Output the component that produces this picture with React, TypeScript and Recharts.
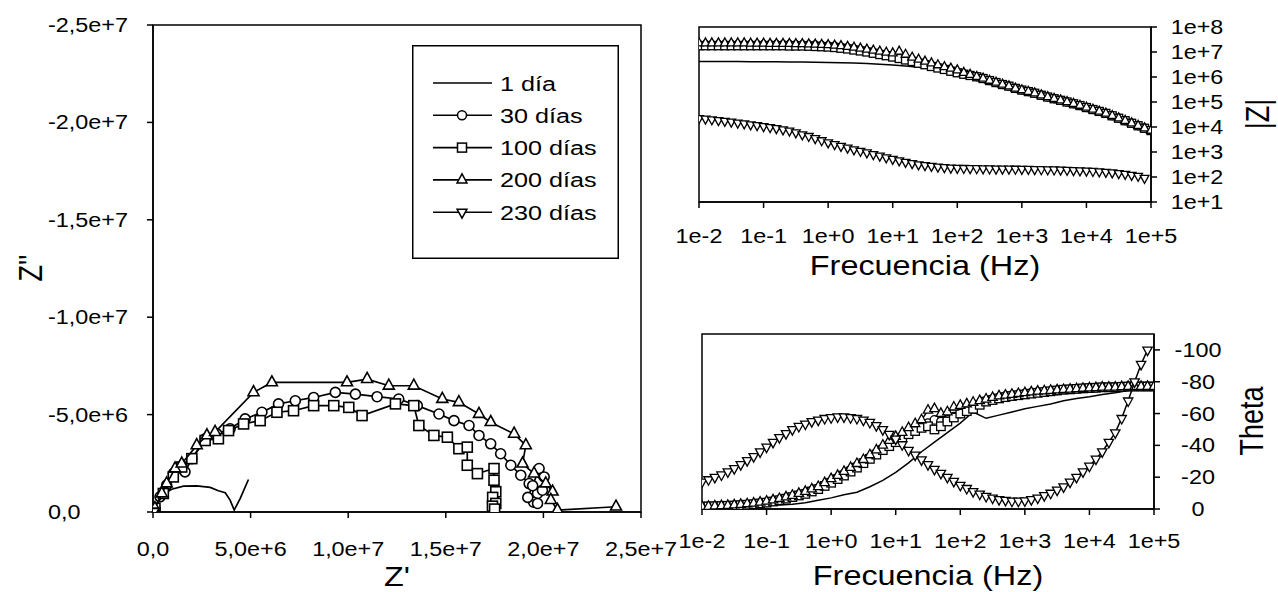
import React from 'react';
import { ScatterChart, Scatter, XAxis, YAxis, ReferenceArea, Legend } from 'recharts';

const FONT = '"Liberation Sans", Arial, Helvetica, sans-serif';
const SX = 1.2;

// ---------- Series names ----------
const SERIES_NAMES = ['1 día', '30 días', '100 días', '200 días', '230 días'];
const SERIES_MARKERS = ['none', 'circle', 'square', 'triUp', 'triDown'];

// ---------- Nyquist (Z', Z'') ----------
const NYQ_1DIA: number[][] = [
  [0, 0], [0.27e6, -0.53e6], [0.53e6, -0.92e6], [0.96e6, -1.17e6], [1.56e6, -1.33e6], [2.24e6, -1.34e6],
  [2.93e6, -1.26e6], [3.35e6, -1.09e6], [3.7e6, -0.99e6], [3.95e6, -0.61e6], [4.16e6, -0.1e6],
  [4.47e6, -0.7e6], [4.89e6, -1.67e6],
];
const NYQ_30: number[][] = [
  [0.1e6, -0.19e6], [0.36e6, -0.78e6], [0.7e6, -1.38e6], [1.04e6, -1.97e6], [1.64e6, -2.06e6], [1.99e6, -2.74e6],
  [2.67e6, -3.76e6], [3.27e6, -4.01e6], [3.95e6, -4.27e6], [4.72e6, -4.78e6], [5.58e6, -5.12e6], [6.43e6, -5.55e6],
  [7.29e6, -5.71e6], [8.23e6, -5.88e6], [9.34e6, -6.14e6], [10.37e6, -6.05e6], [11.48e6, -5.92e6], [12.59e6, -5.8e6],
  [13.54e6, -5.46e6], [14.65e6, -5.03e6], [15.42e6, -4.69e6], [16.19e6, -4.44e6], [16.7e6, -3.93e6], [17.3e6, -3.5e6],
  [17.81e6, -2.99e6], [18.33e6, -2.4e6], [18.84e6, -1.89e6], [19.27e6, -1.46e6], [19.7e6, -0.95e6], [19.5e6, -0.5e6],
  [19.2e6, -0.75e6], [19.45e6, -1.35e6], [19.78e6, -2.23e6], [20.04e6, -1.8e6], [19.95e6, -1.12e6], [19.7e6, -0.44e6],
];
const NYQ_100: number[][] = [
  [0.1e6, -0.19e6], [0.53e6, -0.95e6], [1.04e6, -1.8e6], [1.47e6, -2.31e6], [1.99e6, -2.74e6], [2.67e6, -3.67e6],
  [3.35e6, -3.76e6], [3.87e6, -4.18e6], [4.64e6, -4.52e6], [5.49e6, -4.69e6], [6.35e6, -5.12e6], [7.2e6, -5.2e6],
  [8.23e6, -5.46e6], [9.26e6, -5.46e6], [10.03e6, -5.37e6], [10.71e6, -4.95e6], [12.42e6, -5.55e6], [13.36e6, -5.46e6],
  [13.62e6, -4.44e6], [14.39e6, -3.93e6], [15.08e6, -3.84e6], [15.67e6, -3.25e6], [16.1e6, -3.33e6], [16.1e6, -2.4e6],
  [16.62e6, -1.97e6], [17.47e6, -2.23e6], [17.47e6, -1.63e6], [17.56e6, -1.04e6], [17.4e6, -0.75e6], [17.56e6, -0.44e6],
  [17.39e6, -0.3e6], [17.5e6, -0.15e6],
];
const NYQ_200: number[][] = [
  [0.1e6, -0.19e6], [0.45e6, -0.95e6], [0.7e6, -1.46e6], [1.13e6, -2.23e6], [1.47e6, -2.48e6], [2.24e6, -3.42e6],
  [2.76e6, -3.93e6], [3.18e6, -4.1e6], [5.15e6, -6.14e6], [6.09e6, -6.65e6], [9.94e6, -6.65e6], [10.97e6, -6.82e6],
  [12.08e6, -6.48e6], [13.36e6, -6.48e6], [14.82e6, -5.8e6], [15.67e6, -5.63e6], [16.7e6, -5.03e6], [17.3e6, -4.61e6],
  [18.5e6, -4.01e6], [19.1e6, -3.42e6], [18.93e6, -2.48e6], [19.52e6, -1.97e6], [20.12e6, -1.46e6], [20.47e6, -1.04e6],
  [20.38e6, -0.61e6], [20.72e6, -0.1e6], [23.72e6, -0.27e6],
];
const NYQ_230: number[][] = [[5e4, -2e4], [3e4, -1e4], [2e4, -5e3]];

const NYQ_X_TICKS = [0, 5e6, 1e7, 1.5e7, 2e7, 2.5e7];
const NYQ_X_LABELS = ['0,0', '5,0e+6', '1,0e+7', '1,5e+7', '2,0e+7', '2,5e+7'];
const NYQ_Y_TICKS = [-2.5e7, -2e7, -1.5e7, -1e7, -5e6, 0];
const NYQ_Y_LABELS = ['-2,5e+7', '-2,0e+7', '-1,5e+7', '-1,0e+7', '-5,0e+6', '0,0'];

// ---------- Bode: frequencies ----------
// 10 points per decade (markers)
const FREQ = [
  0.01, 0.0126, 0.0158, 0.02, 0.0251, 0.0316, 0.0398, 0.0501, 0.0631, 0.0794,
  0.1, 0.126, 0.158, 0.2, 0.251, 0.316, 0.398, 0.501, 0.631, 0.794,
  1, 1.26, 1.58, 2, 2.51, 3.16, 3.98, 5.01, 6.31, 7.94,
  10, 12.6, 15.8, 20, 25.1, 31.6, 39.8, 50.1, 63.1, 79.4,
  100, 126, 158, 200, 251, 316, 398, 501, 631, 794,
  1000, 1260, 1580, 2000, 2510, 3160, 3980, 5010, 6310, 7940,
  10000, 12600, 15800, 20000, 25100, 31600, 39800, 50100, 63100, 79400,
  100000,
];
// 1 día is drawn as a plain line
const FREQ_1DIA = [
  0.01, 0.0158, 0.0251, 0.0398, 0.0631, 0.1, 0.158, 0.251, 0.398, 0.631,
  1, 1.58, 2.51, 3.98, 6.31, 10, 15.8, 25.1, 39.8, 63.1,
  100, 158, 251, 398, 631, 1000, 1580, 2510, 3980, 6310,
  10000, 15800, 25100, 39800, 63100, 100000,
];

// ---------- |Z| ----------
const Z_1DIA = [
  4.2e6, 4.2e6, 4.2e6, 4.2e6, 4.1e6, 4.1e6, 4.1e6, 4.0e6, 4.0e6, 3.9e6,
  3.8e6, 3.7e6, 3.6e6, 3.5e6, 3.2e6, 3.0e6, 2.75e6, 2.45e6, 2.19e6, 1.9e6,
  1.58e6, 1.2e6, 8.9e5, 6.0e5, 4.3e5, 3.0e5, 2.24e5, 1.58e5, 1.17e5, 8.5e4,
  6.0e4, 4.2e4, 2.8e4, 1.78e4, 1.12e4, 7.2e3,
];
const Z_30 = [
  2.0e7, 2.0e7, 2.0e7, 2.0e7, 2.0e7, 2.0e7, 2.0e7, 2.0e7, 2.0e7, 2.0e7,
  2.0e7, 2.0e7, 2.0e7, 2.0e7, 2.0e7, 1.95e7, 1.95e7, 1.91e7, 1.91e7, 1.82e7,
  1.78e7, 1.7e7, 1.58e7, 1.45e7, 1.32e7, 1.2e7, 1.07e7, 9.5e6, 8.5e6, 7.6e6,
  6.6e6, 5.75e6, 5.0e6, 4.37e6, 3.72e6, 3.24e6, 2.75e6, 2.4e6, 2.04e6, 1.78e6,
  1.51e6, 1.32e6, 1.17e6, 1.02e6, 8.7e5, 7.2e5, 6.0e5, 5.0e5, 4.3e5, 3.5e5,
  3.0e5, 2.6e5, 2.24e5, 1.86e5, 1.58e5, 1.35e5, 1.17e5, 1.0e5, 8.5e4, 7.2e4,
  6.0e4, 5.0e4, 4.2e4, 3.5e4, 2.8e4, 2.24e4, 1.78e4, 1.41e4, 1.12e4, 8.9e3,
  7.2e3,
];
const Z_100 = [
  1.78e7, 1.78e7, 1.78e7, 1.78e7, 1.78e7, 1.78e7, 1.78e7, 1.78e7, 1.78e7, 1.78e7,
  1.78e7, 1.78e7, 1.78e7, 1.78e7, 1.74e7, 1.74e7, 1.74e7, 1.7e7, 1.66e7, 1.62e7,
  1.58e7, 1.51e7, 1.41e7, 1.32e7, 1.2e7, 1.1e7, 1.0e7, 8.9e6, 7.9e6, 7.1e6,
  6.3e6, 5.5e6, 4.8e6, 4.17e6, 3.55e6, 3.09e6, 2.63e6, 2.29e6, 2.0e6, 1.7e6,
  1.48e6, 1.29e6, 1.15e6, 1.02e6, 8.7e5, 7.2e5, 6.0e5, 5.0e5, 4.3e5, 3.5e5,
  3.0e5, 2.6e5, 2.24e5, 1.86e5, 1.58e5, 1.35e5, 1.17e5, 1.0e5, 8.5e4, 7.2e4,
  6.0e4, 5.0e4, 4.2e4, 3.5e4, 2.8e4, 2.24e4, 1.78e4, 1.41e4, 1.12e4, 8.9e3,
  7.2e3,
];
const Z_200 = [
  2.24e7, 2.24e7, 2.24e7, 2.24e7, 2.24e7, 2.24e7, 2.24e7, 2.24e7, 2.19e7, 2.19e7,
  2.19e7, 2.14e7, 2.14e7, 2.14e7, 2.14e7, 2.09e7, 2.09e7, 2.04e7, 2.0e7, 1.95e7,
  1.91e7, 1.82e7, 1.74e7, 1.62e7, 1.51e7, 1.38e7, 1.26e7, 1.15e7, 1.05e7, 9.5e6,
  8.9e6, 1.05e7, 7.9e6, 6.0e6, 5.0e6, 4.17e6, 3.55e6, 3.0e6, 2.5e6, 2.19e6,
  1.86e6, 1.48e6, 1.23e6, 1.02e6, 8.7e5, 7.2e5, 6.0e5, 5.0e5, 4.3e5, 3.5e5,
  3.0e5, 2.6e5, 2.24e5, 1.86e5, 1.58e5, 1.35e5, 1.17e5, 1.0e5, 8.5e4, 7.2e4,
  6.0e4, 5.0e4, 4.2e4, 3.5e4, 2.8e4, 2.24e4, 1.78e4, 1.41e4, 1.12e4, 8.9e3,
  7.2e3,
];
const Z_230: (number | null)[] = [
  2.24e4, 2.14e4, 2.0e4, 1.86e4, 1.74e4, 1.62e4, 1.48e4, 1.38e4, 1.26e4, 1.17e4,
  1.07e4, 9.8e3, 8.9e3, 7.9e3, 7.1e3, 6.0e3, 5.0e3, 4.3e3, 3.55e3, 2.9e3,
  2.4e3, 2.04e3, 1.74e3, 1.48e3, 1.26e3, 1.1e3, 955, 813, 708, 603,
  525, 457, 398, 355, 316, 295, 275, 257, 245, 234,
  229, 226, 224, 221, 219, 216, 214, 214, 214, 211,
  209, 207, 204, 202, 200, 197, 195, 191, 186, 182,
  178, 172, 166, 158, 151, 141, 132, 120, 110, 91,
  null,
];

// ---------- Theta ----------
const TH_1DIA = [
  -0.5, -0.8, -1, -1.3, -1.6, -2, -2.5, -3, -4, -5.5,
  -7, -9, -10.5, -14, -18, -23, -29, -36, -42, -48,
  -54, -61, -57, -59, -61, -63, -64.5, -66, -68, -69.5,
  -70.5, -72, -73, -74.5, -75.5, -76,
];
const TH_30 = [
  -1.5, -1.6, -1.7, -1.85, -2, -2.2, -2.5, -2.8, -3.2, -3.7,
  -4.2, -5, -5.8, -6.8, -7.8, -8.9, -10, -11.5, -13, -15,
  -17, -19.5, -22, -24.5, -27, -29.5, -32.5, -35, -38, -40.5,
  -43, -45.5, -48, -50, -52, -54, -56, -55, -56, -58,
  -60, -61.5, -63, -66, -68, -69, -70, -71, -71.5, -72,
  -72.5, -73, -73.5, -73.8, -74, -74.5, -75, -75.2, -75.5, -75.8,
  -76, -76.2, -76.5, -76.5, -76.5, -76.8, -77, -77, -77, -77,
  -77,
];
const TH_100 = [
  -1.5, -1.6, -1.7, -1.85, -2, -2.2, -2.4, -2.7, -3, -3.5,
  -4, -4.7, -5.5, -6.5, -7.5, -8.5, -9.5, -11, -12.5, -14.5,
  -16.5, -18.8, -21, -23.5, -26, -28.8, -31.5, -34.2, -37, -39.5,
  -42, -44.5, -47, -49, -51, -52, -50, -52, -55, -57.5,
  -60, -61.5, -63, -65.5, -67.5, -68.5, -69.5, -70.3, -71, -71.5,
  -72, -72.5, -73, -73.5, -74, -74.5, -75, -75.2, -75.5, -75.8,
  -76, -76.2, -76.5, -76.5, -76.5, -76.8, -77, -77, -77, -77,
  -77,
];
const TH_200 = [
  -1.5, -1.6, -1.8, -2, -2.2, -2.5, -2.8, -3.2, -3.6, -4.2,
  -4.8, -5.6, -6.5, -7.5, -8.5, -9.7, -11, -12.5, -14, -16.5,
  -19, -21, -23.5, -26, -28.5, -31, -34, -37, -40, -43,
  -45.5, -48, -51, -53.5, -56, -62, -63, -60, -61, -64,
  -65, -66, -67, -68, -69, -70, -71, -71.5, -72, -72.5,
  -73, -73.5, -74, -74.2, -74.5, -74.8, -75, -75.2, -75.5, -75.8,
  -76, -76.2, -76.5, -76.5, -76.5, -76.8, -77, -77, -77, -77,
  -77,
];
const TH_230: (number | null)[] = [
  -17, -18.5, -20, -21.5, -23.5, -25.5, -28, -30.5, -33, -36,
  -39, -42, -45, -47.5, -50, -52, -53.5, -55, -56, -57,
  -57.5, -58, -58, -57.5, -57, -56, -54.5, -52.5, -50, -47,
  -44, -40.5, -37, -34, -31, -28, -25, -22.5, -20, -17.5,
  -15, -13, -11, -9.5, -8, -7, -6, -5.5, -5, -5,
  -5.2, -6, -7, -8.5, -10, -12, -14, -17, -20, -23.5,
  -27, -31.5, -36, -42, -48, -57, -68, -80, -91, -100,
  null,
];

const F_TICKS = [0.01, 0.1, 1, 10, 100, 1000, 10000, 100000];
const F_LABELS = ['1e-2', '1e-1', '1e+0', '1e+1', '1e+2', '1e+3', '1e+4', '1e+5'];
const Z_TICKS = [10, 100, 1000, 1e4, 1e5, 1e6, 1e7, 1e8];
const Z_LABELS = ['1e+1', '1e+2', '1e+3', '1e+4', '1e+5', '1e+6', '1e+7', '1e+8'];
const TH_TICKS = [-100, -80, -60, -40, -20, 0];
const TH_LABELS = ['-100', '-80', '-60', '-40', '-20', '0'];

// ---------- helpers ----------
type P = { x: number; y: number };
const pairs = (arr: number[][]): P[] => arr.map(([x, y]) => ({ x, y }));
const byFreq = (freq: number[], vals: (number | null)[]): P[] =>
  freq
    .map((f, i) => ({ x: f, y: vals[i] as number }))
    .filter((p) => p.y !== null && p.y !== undefined);

const labelFor = (ticks: number[], labels: string[], v: number) => {
  const i = ticks.findIndex((t) => Math.abs(t - v) <= Math.abs(t) * 1e-6 + 1e-9);
  return i >= 0 ? labels[i] : String(v);
};

const drawMarker = (kind: string, cx: number, cy: number, s: number, sw: number, key?: string) => {
  const common = { fill: '#fff', stroke: '#000', strokeWidth: sw };
  if (kind === 'circle') return <circle key={key} cx={cx} cy={cy} r={s / 2} {...common} />;
  if (kind === 'square') return <rect key={key} x={cx - s / 2} y={cy - s / 2} width={s} height={s} {...common} />;
  if (kind === 'triUp') {
    const w = s * 1.1, h = s;
    return <polygon key={key} points={`${cx},${cy - (2 * h) / 3} ${cx - w / 2},${cy + h / 3} ${cx + w / 2},${cy + h / 3}`} {...common} />;
  }
  if (kind === 'triDown') {
    const w = s * 1.1, h = s;
    return <polygon key={key} points={`${cx},${cy + (2 * h) / 3} ${cx - w / 2},${cy - h / 3} ${cx + w / 2},${cy - h / 3}`} {...common} />;
  }
  return <g key={key} />;
};

const shapeOf = (kind: string, s: number, sw: number) => (props: any) => {
  const { cx, cy } = props;
  if (cx == null || cy == null || kind === 'none') return <g />;
  return drawMarker(kind, cx, cy, s, sw);
};

const TText = ({ x, y, text, anchor = 'middle', size = 19.5 }: any) => (
  <text transform={`translate(${x},${y}) scale(${SX},1)`} textAnchor={anchor} fontSize={size} fontFamily={FONT} fill="#000">
    {text}
  </text>
);

const Title = ({ cx, cy, text, rotate = false }: any) => (
  <text
    transform={`translate(${cx},${cy}) scale(${SX},1)${rotate ? ' rotate(-90)' : ''}`}
    textAnchor="middle"
    dy={rotate ? '0.36em' : 0}
    fontSize={27}
    fontFamily={FONT}
    fill="#000"
  >
    {text}
  </text>
);

const AX = { stroke: '#000', strokeWidth: 1.5 };

const LegendBox = () => (
  <svg width={207} height={214} style={{ display: 'block' }}>
    <rect x={0.75} y={0.75} width={205.5} height={212.5} fill="#fff" stroke="#000" strokeWidth={1.5} />
    {SERIES_NAMES.map((name, i) => {
      const y = 38 + 32.3 * i;
      return (
        <g key={name}>
          <line x1={21} x2={80} y1={y} y2={y} stroke="#000" strokeWidth={1.6} />
          {drawMarker(SERIES_MARKERS[i], 50, y, 9, 1.5)}
          <TText x={88} y={y + 7.5} text={name} anchor="start" size={21} />
        </g>
      );
    })}
  </svg>
);

const NYQ_DATA = [NYQ_1DIA, NYQ_30, NYQ_100, NYQ_200, NYQ_230].map(pairs);
const ZMOD_DATA = [
  byFreq(FREQ_1DIA, Z_1DIA),
  byFreq(FREQ, Z_30),
  byFreq(FREQ, Z_100),
  byFreq(FREQ, Z_200),
  byFreq(FREQ, Z_230),
];
const THETA_DATA = [
  byFreq(FREQ_1DIA, TH_1DIA),
  byFreq(FREQ, TH_30),
  byFreq(FREQ, TH_100),
  byFreq(FREQ, TH_200),
  byFreq(FREQ, TH_230),
];

export default function App() {
  return (
    <div style={{ position: 'absolute', left: 0, top: 0, width: 1278, height: 592, background: '#fff', overflow: 'hidden' }}>
      {/* Nyquist */}
      <div style={{ position: 'absolute', left: 0, top: 0 }}>
        <ScatterChart width={700} height={592} margin={{ top: 25, right: 59, bottom: 40, left: 0 }}>
          <XAxis
            type="number"
            dataKey="x"
            domain={[0, 2.5e7]}
            ticks={NYQ_X_TICKS}
            allowDataOverflow
            height={40}
            axisLine={AX}
            tickLine={AX}
            tickSize={6}
            tick={(p: any) => <TText x={p.x} y={p.y + 36} text={labelFor(NYQ_X_TICKS, NYQ_X_LABELS, p.payload.value)} />}
            label={() => <Title cx={397} cy={586} text="Z'" />}
          />
          <YAxis
            type="number"
            dataKey="y"
            domain={[-2.5e7, 0]}
            reversed
            ticks={NYQ_Y_TICKS}
            allowDataOverflow
            width={153}
            axisLine={AX}
            tickLine={AX}
            tickSize={6}
            tick={(p: any) => <TText x={p.x - 97} y={p.y + 7} anchor="start" text={labelFor(NYQ_Y_TICKS, NYQ_Y_LABELS, p.payload.value)} />}
            label={() => <Title cx={30} cy={268} text="Z''" rotate />}
          />
          <ReferenceArea x1={0} x2={2.5e7} y1={-2.5e7} y2={0} fill="none" stroke="#000" strokeWidth={1.5} />
          {NYQ_DATA.map((d, i) => (
            <Scatter
              key={SERIES_NAMES[i]}
              name={SERIES_NAMES[i]}
              data={d}
              line={{ stroke: '#000', strokeWidth: 1.7 }}
              lineType="joint"
              shape={shapeOf(SERIES_MARKERS[i], 10, 1.6)}
              isAnimationActive={false}
            />
          ))}
          <Legend
            layout="vertical"
            align="center"
            verticalAlign="middle"
            content={() => <LegendBox />}
            wrapperStyle={{ position: 'absolute', left: 412, top: 45, width: 207, height: 214 }}
          />
        </ScatterChart>
      </div>

      {/* Bode |Z| */}
      <div style={{ position: 'absolute', left: 660, top: 0 }}>
        <ScatterChart width={618} height={300} margin={{ top: 27, right: 0, bottom: 58, left: 39 }}>
          <XAxis
            type="number"
            dataKey="x"
            scale="log"
            domain={[0.01, 100000]}
            ticks={F_TICKS}
            allowDataOverflow
            height={40}
            axisLine={AX}
            tickLine={AX}
            tickSize={6}
            tick={(p: any) => <TText x={p.x} y={p.y + 33} text={labelFor(F_TICKS, F_LABELS, p.payload.value)} />}
            label={() => <Title cx={265} cy={275} text="Frecuencia (Hz)" />}
          />
          <YAxis
            type="number"
            dataKey="y"
            orientation="right"
            scale="log"
            domain={[10, 1e8]}
            ticks={Z_TICKS}
            allowDataOverflow
            width={127}
            axisLine={AX}
            tickLine={AX}
            tickSize={6}
            tick={(p: any) => <TText x={p.x + 38} y={p.y + 7} text={labelFor(Z_TICKS, Z_LABELS, p.payload.value)} />}
            label={() => <Title cx={597} cy={114} text="|Z|" rotate />}
          />
          <ReferenceArea x1={0.01} x2={100000} y1={10} y2={1e8} fill="none" stroke="#000" strokeWidth={1.5} />
          {ZMOD_DATA.map((d, i) => (
            <Scatter
              key={SERIES_NAMES[i]}
              name={SERIES_NAMES[i]}
              data={d}
              line={{ stroke: '#000', strokeWidth: 1.5 }}
              lineType="joint"
              shape={shapeOf(SERIES_MARKERS[i], 8, 1.3)}
              isAnimationActive={false}
            />
          ))}
        </ScatterChart>
      </div>

      {/* Bode theta */}
      <div style={{ position: 'absolute', left: 660, top: 300 }}>
        <ScatterChart width={618} height={292} margin={{ top: 34, right: 0, bottom: 43, left: 42 }}>
          <XAxis
            type="number"
            dataKey="x"
            scale="log"
            domain={[0.01, 100000]}
            ticks={F_TICKS}
            allowDataOverflow
            height={40}
            axisLine={AX}
            tickLine={AX}
            tickSize={6}
            tick={(p: any) => <TText x={p.x} y={p.y + 31} text={labelFor(F_TICKS, F_LABELS, p.payload.value)} />}
            label={() => <Title cx={268} cy={285} text="Frecuencia (Hz)" />}
          />
          <YAxis
            type="number"
            dataKey="y"
            orientation="right"
            reversed
            domain={[-110, 0]}
            ticks={TH_TICKS}
            allowDataOverflow
            width={124}
            axisLine={AX}
            tickLine={AX}
            tickSize={6}
            tick={(p: any) => <TText x={p.x + 36} y={p.y + 7} text={labelFor(TH_TICKS, TH_LABELS, p.payload.value)} />}
            label={() => <Title cx={591} cy={121} text="Theta" rotate />}
          />
          <ReferenceArea x1={0.01} x2={100000} y1={-110} y2={0} fill="none" stroke="#000" strokeWidth={1.5} />
          {THETA_DATA.map((d, i) => (
            <Scatter
              key={SERIES_NAMES[i]}
              name={SERIES_NAMES[i]}
              data={d}
              line={{ stroke: '#000', strokeWidth: 1.5 }}
              lineType="joint"
              shape={shapeOf(SERIES_MARKERS[i], 8.5, 1.3)}
              isAnimationActive={false}
            />
          ))}
        </ScatterChart>
      </div>
    </div>
  );
}
